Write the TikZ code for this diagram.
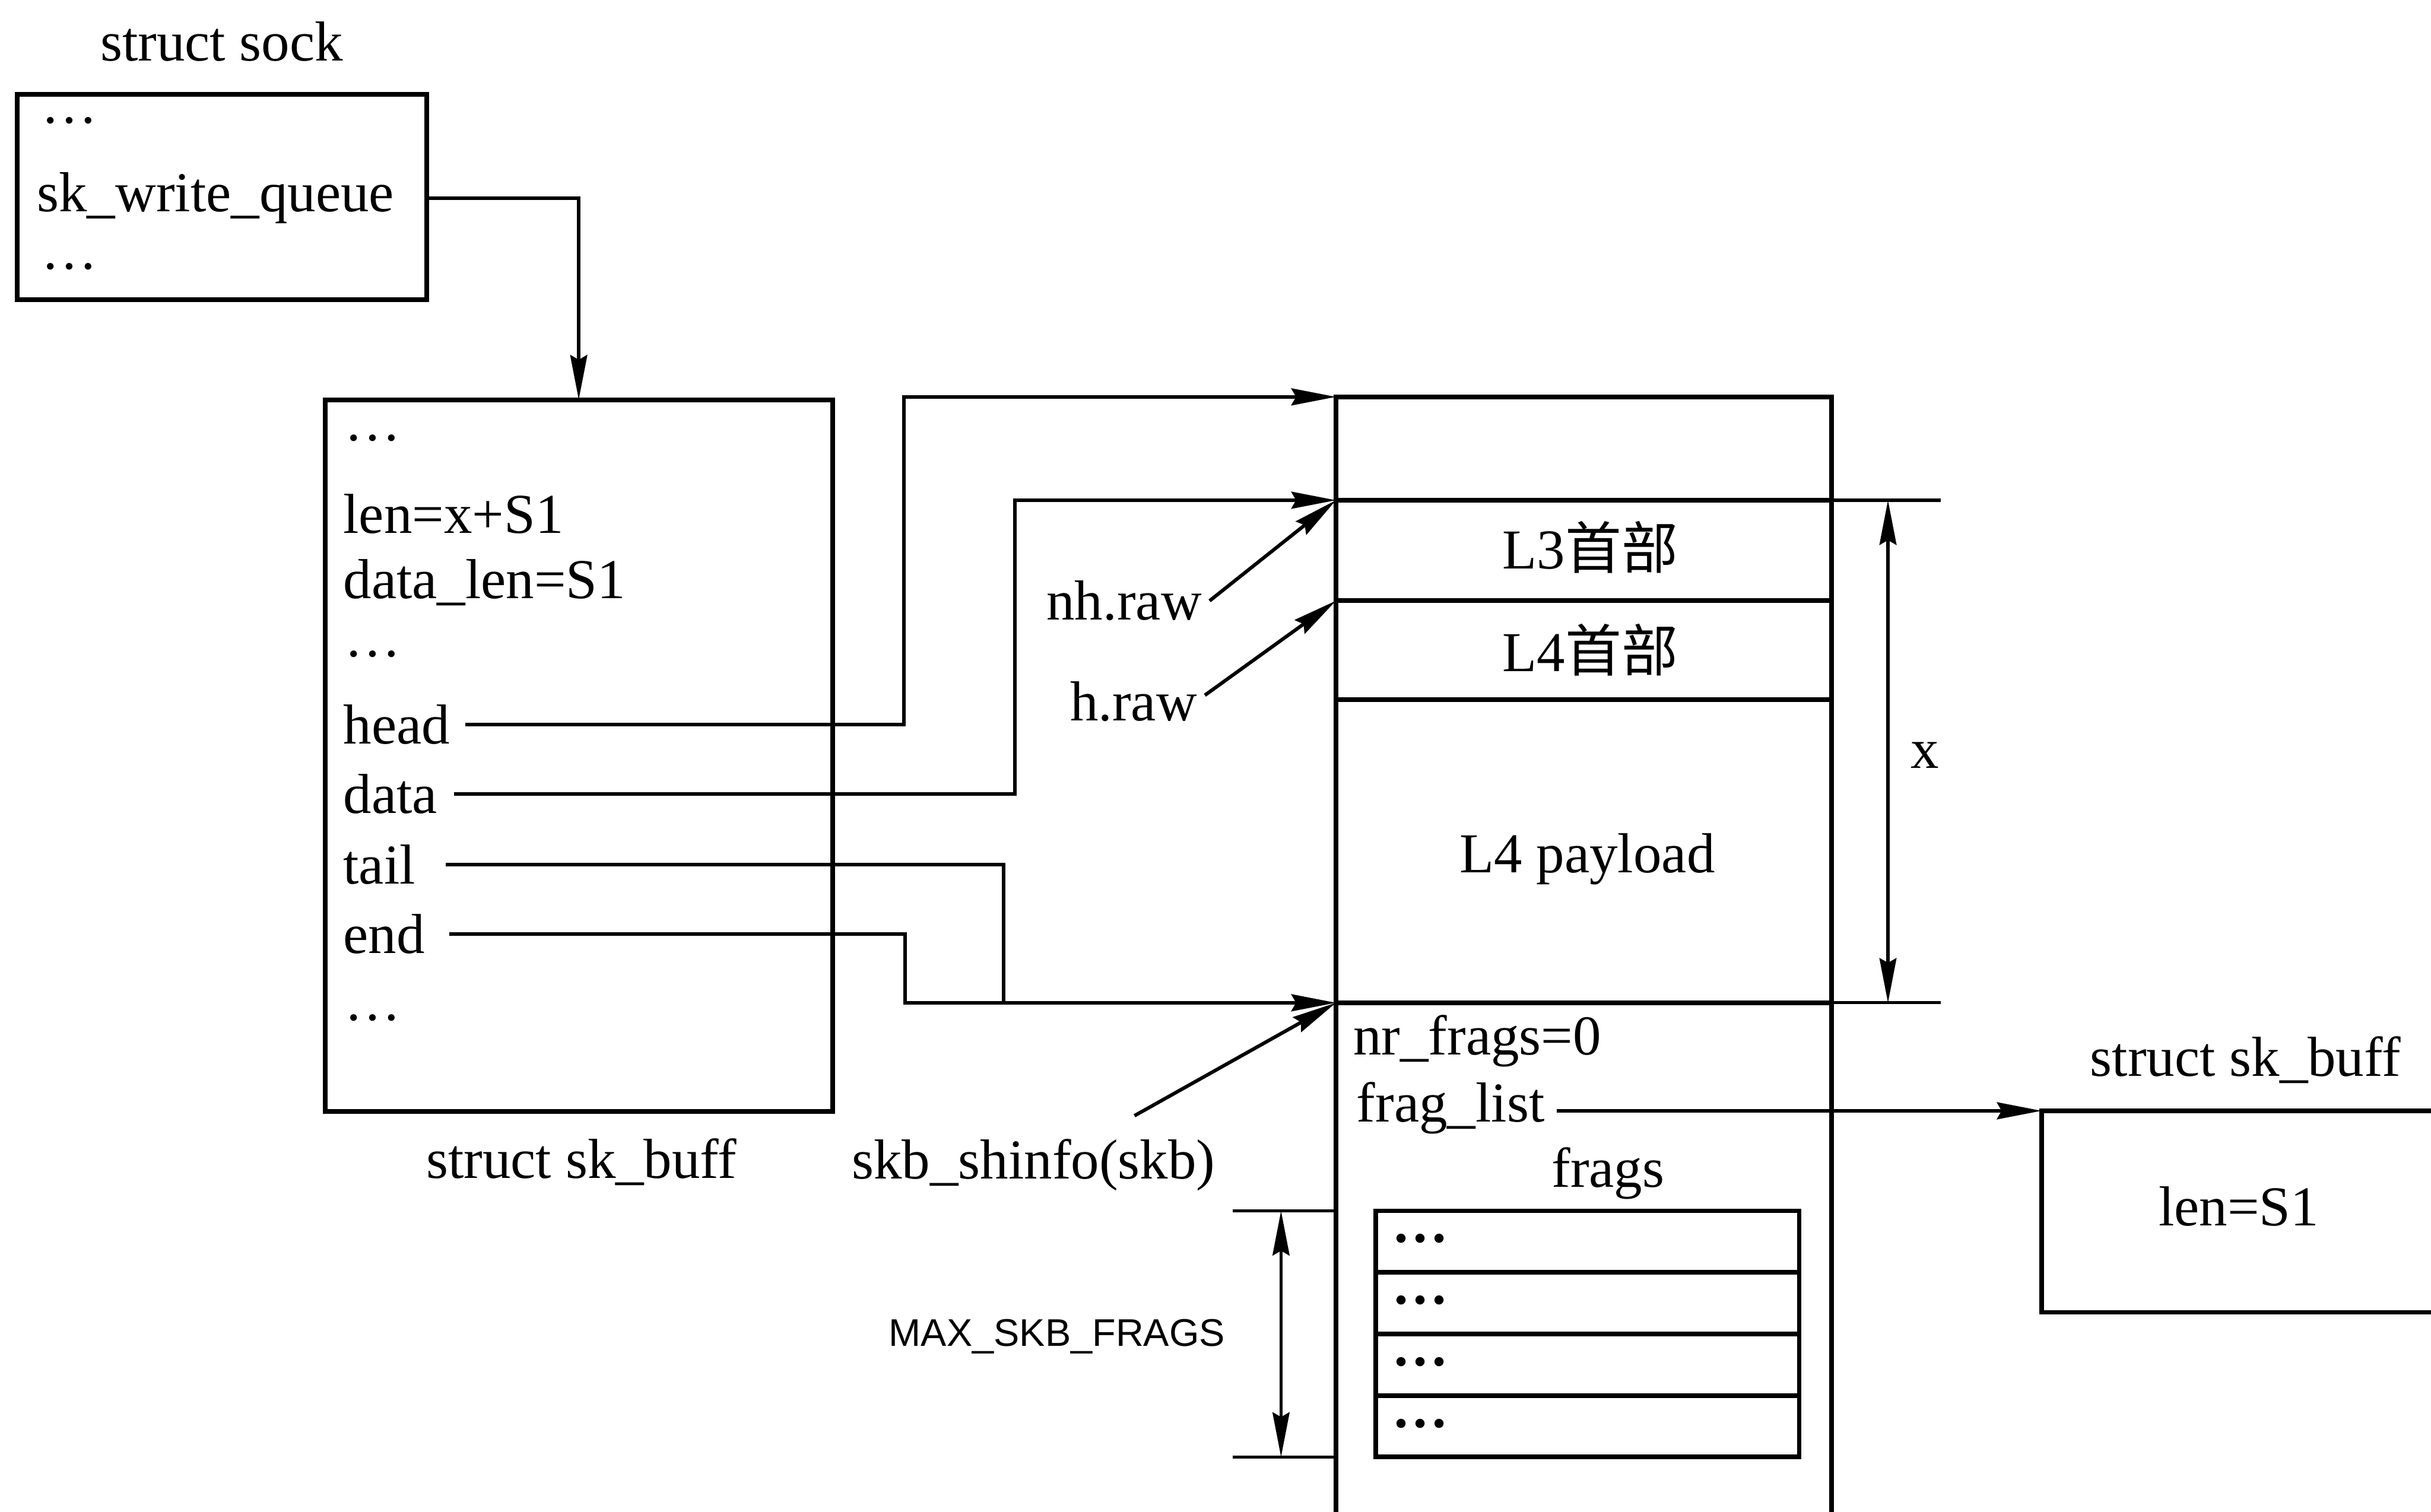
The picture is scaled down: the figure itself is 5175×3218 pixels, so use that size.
\documentclass[tikz,border=0pt]{standalone}
\usepackage{fontspec}
\setmainfont{Liberation Serif}
\newfontfamily\cjk{Noto Sans CJK SC}
\newfontfamily\capsans{Liberation Sans}
\usetikzlibrary{arrows.meta}
\begin{document}
\begin{tikzpicture}[x=1pt,y=-1pt,
  txt/.style={font=\fontsize{120}{144}\selectfont, inner sep=0pt, outer sep=0pt},
  bw/.style={txt, anchor=base west},
  bc/.style={txt, anchor=base},
  dotsn/.style={txt, anchor=west},
  box/.style={draw, line width=10pt, inner sep=0pt, outer sep=0pt},
  conn/.style={line width=7.5pt},
  tip/.tip={Stealth[length=95pt,width=36pt,inset=10pt]},
  arr/.style={conn, -tip},
  dimline/.style={line width=6.5pt, tip-tip},
  extline/.style={line width=6.5pt}
]
\fill[white] (0,0) rectangle (5175,3218);
\clip (0,0) rectangle (5175,3218);

% ---- boxes
\node[box, minimum width=871pt, minimum height=437pt] (sock) at (472.5,419.5) {};
\node[box, minimum width=1080pt, minimum height=1515pt] (skb) at (1232,1608.5) {};
\node[box, minimum width=1055pt, minimum height=220pt] (headroom) at (3371.5,955) {};
\node[box, minimum width=1055pt, minimum height=214pt] (l3hdr) at (3371.5,1172) {};
\node[box, minimum width=1055pt, minimum height=211pt] (l4hdr) at (3371.5,1384.5) {};
\node[box, minimum width=1055pt, minimum height=645pt] (payload) at (3371.5,1812.5) {};
\node[box, minimum width=1055pt, minimum height=1265pt] (shinfo) at (3371.5,2767.5) {};
\node[box, minimum width=901pt, minimum height=131pt] (frag1) at (3379.5,2643.5) {};
\node[box, minimum width=901pt, minimum height=131pt] (frag2) at (3379.5,2774.5) {};
\node[box, minimum width=901pt, minimum height=131pt] (frag3) at (3379.5,2905.5) {};
\node[box, minimum width=901pt, minimum height=131pt] (frag4) at (3379.5,3036.5) {};
\node[box, minimum width=1000pt, minimum height=429pt] (rsk) at (4846,2579.5) {};

% ---- texts: struct sock
\node[bc] (sockt) at (472,129) {struct sock};
\node[dotsn] (sd1) at (88,257) {\dots};
\node[bw] (wq) at (79,451) {sk\_write\_queue};
\node[dotsn] (sd2) at (88,567) {\dots};

% ---- texts: sk_buff
\node[dotsn] (bd1) at (734,933) {\dots};
\node[bw] (len) at (731,1135) {len=x+S1};
\node[bw] (dlen) at (731,1274) {data\_len=S1};
\node[dotsn] (bd2) at (734,1392) {\dots};
\node[bw] (head) at (731,1584) {head};
\node[bw] (data) at (731,1731) {data};
\node[bw] (tail) at (731,1882) {tail};
\node[bw] (end) at (731,2030) {end};
\node[dotsn] (bd3) at (734,2167) {\dots};
\node[bc] (skbt) at (1238,2508) {struct sk\_buff};

% ---- texts: memory block
\node[bw] (nhraw) at (2228,1320) {nh.raw};
\node[bw] (hraw) at (2278,1535) {h.raw};
\node[bc] (l3t) at (3385,1211) {L3{\cjk 首部}};
\node[bc] (l4t) at (3385,1430) {L4{\cjk 首部}};
\node[bc] (plt) at (3379,1858) {L4 payload};
\node[bc] (xt) at (4097,1635) {x};
\node[bw] (nrf) at (2881,2246) {nr\_frags=0};
\node[bw] (fraglist) at (2888,2389) {frag\_list};
\node[bc] (fragst) at (3423,2528) {frags};
\node[bc] (skbsh) at (2200,2510) {skb\_shinfo(skb)};
\node[txt, anchor=base, font=\capsans\fontsize{82}{98}\selectfont] (maxt) at (2250,2866) {MAX\_SKB\_FRAGS};
\node[dotsn, font=\bfseries\fontsize{120}{144}\selectfont] (fd1) at ([xshift=34pt,yshift=6pt]frag1.west) {\dots};
\node[dotsn, font=\bfseries\fontsize{120}{144}\selectfont] (fd2) at ([xshift=34pt,yshift=6pt]frag2.west) {\dots};
\node[dotsn, font=\bfseries\fontsize{120}{144}\selectfont] (fd3) at ([xshift=34pt,yshift=6pt]frag3.west) {\dots};
\node[dotsn, font=\bfseries\fontsize{120}{144}\selectfont] (fd4) at ([xshift=34pt,yshift=6pt]frag4.west) {\dots};

% ---- right sk_buff
\node[bc] (rskt) at (4780,2291) {struct sk\_buff};
\node[bc] (rlen) at (4766,2609) {len=S1};

% ---- connectors
\coordinate (wqstart) at (sock.east |- wq.center);
\draw[arr] (wqstart) -| (skb.north);

\draw[arr] ([xshift=260pt]head.west) -| ([xshift=-920pt]headroom.north west) -- (headroom.north west);
\draw[arr] ([xshift=235pt]data.west) -| ([xshift=-683pt]l3hdr.north west) -- (l3hdr.north west);
\draw[conn] ([xshift=218pt]tail.west) -| ([xshift=-707pt]payload.south west);
\draw[arr] ([xshift=225pt]end.west) -| ([xshift=-917pt]payload.south west) -- (payload.south west);

\draw[arr] ([xshift=17pt]nhraw.east) -- (l3hdr.north west);
\draw[arr] ([xshift=17pt,yshift=14pt]hraw.east) -- (l4hdr.north west);
\draw[arr] ([xshift=215pt,yshift=50pt]skbsh.north) -- (shinfo.north west);

\coordinate (flstart) at ([xshift=426pt]fraglist.west);
\draw[arr] (flstart |- rsk.north west) -- (rsk.north west);

% ---- dimension x
\draw[extline] (l3hdr.north east) -- ++(232,0);
\draw[extline] (payload.south east) -- ++(232,0);
\draw[dimline] ([xshift=120pt]l3hdr.north east) -- ([xshift=120pt]payload.south east);

% ---- dimension MAX_SKB_FRAGS
\coordinate (mt) at (shinfo.west |- frag1.north);
\coordinate (mb) at (shinfo.west |- frag4.south);
\draw[extline] (mt) -- ++(-220,0);
\draw[extline] (mb) -- ++(-220,0);
\draw[dimline] ([xshift=-117pt]mt) -- ([xshift=-117pt]mb);
\end{tikzpicture}
\end{document}
